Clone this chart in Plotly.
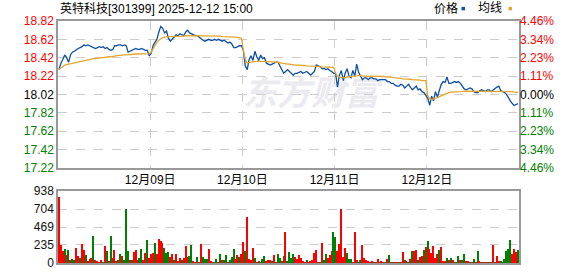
import plotly.graph_objects as go

# ---------------- data ----------------
title_text = "英特科技[301399] 2025-12-12 15:00"
day_labels = ["12月09日", "12月10日", "12月11日", "12月12日"]
bars_per_day = 48

price_d1 = [18.29, 18.36, 18.40, 18.45, 18.42, 18.37, 18.45, 18.48, 18.49, 18.51, 18.52, 18.53,
            18.54, 18.56, 18.55, 18.56, 18.55, 18.54, 18.53, 18.52, 18.53, 18.54, 18.53, 18.54,
            18.52, 18.53, 18.51, 18.50, 18.51, 18.55, 18.55, 18.56, 18.56, 18.55, 18.56, 18.55,
            18.48, 18.49, 18.50, 18.51, 18.52, 18.51, 18.51, 18.52, 18.51, 18.50, 18.50, 18.44]
price_d2 = [18.47, 18.55, 18.59, 18.62, 18.70, 18.76, 18.74, 18.69, 18.71, 18.63, 18.60, 18.62,
            18.65, 18.67, 18.66, 18.68, 18.67, 18.66, 18.70, 18.72, 18.69, 18.68, 18.67, 18.66,
            18.66, 18.64, 18.62, 18.61, 18.60, 18.61, 18.62, 18.61, 18.61, 18.62, 18.61, 18.62,
            18.61, 18.60, 18.61, 18.59, 18.58, 18.59, 18.57, 18.53, 18.53, 18.54, 18.55, 18.55]
price_d3 = [18.50, 18.33, 18.29, 18.40, 18.44, 18.39, 18.49, 18.43, 18.39, 18.45, 18.41, 18.42,
            18.36, 18.35, 18.34, 18.35, 18.36, 18.37, 18.37, 18.33, 18.29, 18.25, 18.27, 18.29,
            18.27, 18.25, 18.23, 18.25, 18.25, 18.26, 18.27, 18.25, 18.26, 18.27, 18.25, 18.23,
            18.25, 18.27, 18.34, 18.33, 18.32, 18.30, 18.30, 18.29, 18.30, 18.28, 18.27, 18.25]
price_d4 = [18.25, 18.10, 18.23, 18.28, 18.17, 18.25, 18.30, 18.22, 18.20, 18.28, 18.22, 18.35,
            18.26, 18.22, 18.18, 18.20, 18.20, 18.18, 18.20, 18.20, 18.19, 18.19, 18.17, 18.18,
            18.18, 18.18, 18.18, 18.16, 18.16, 18.14, 18.14, 18.12, 18.11, 18.11, 18.13, 18.12,
            18.09, 18.11, 18.13, 18.10, 18.07, 18.09, 18.11, 18.07, 18.08, 18.05, 18.04, 18.01]
price_d5 = [17.98, 17.90, 18.00, 17.95, 18.05, 17.99, 18.06, 18.13, 18.16, 18.15, 18.21, 18.14,
            18.14, 18.15, 18.16, 18.15, 18.16, 18.14, 18.11, 18.08, 18.07, 18.08, 18.09, 18.08,
            18.05, 18.04, 18.04, 18.06, 18.07, 18.06, 18.05, 18.07, 18.07, 18.05, 18.07, 18.09,
            18.10, 18.11, 18.06, 18.05, 18.04, 18.02, 17.98, 17.95, 17.92, 17.90, 17.91, 17.92]

avg_d1 = [18.29, 18.31, 18.33, 18.34, 18.345, 18.35, 18.355, 18.36, 18.365, 18.37, 18.375, 18.38,
          18.385, 18.39, 18.395, 18.40, 18.40, 18.405, 18.41, 18.41, 18.415, 18.42, 18.42, 18.42,
          18.425, 18.43, 18.43, 18.43, 18.435, 18.44, 18.44, 18.445, 18.445, 18.45, 18.45, 18.45,
          18.455, 18.455, 18.455, 18.46, 18.46, 18.46, 18.46, 18.46, 18.465, 18.465, 18.465, 18.465]
avg_d2 = [18.48, 18.52, 18.56, 18.59, 18.61, 18.63, 18.64, 18.645, 18.65, 18.65, 18.65, 18.65,
          18.65, 18.65, 18.655, 18.655, 18.655, 18.655, 18.66, 18.66, 18.66, 18.66, 18.66, 18.66,
          18.66, 18.66, 18.66, 18.66, 18.655, 18.655, 18.655, 18.655, 18.655, 18.655, 18.655, 18.655,
          18.655, 18.65, 18.65, 18.65, 18.65, 18.65, 18.65, 18.645, 18.645, 18.64, 18.64, 18.635]
avg_d3 = [18.50, 18.40, 18.36, 18.37, 18.375, 18.375, 18.38, 18.38, 18.38, 18.38, 18.38, 18.38,
          18.38, 18.375, 18.375, 18.375, 18.375, 18.37, 18.37, 18.365, 18.36, 18.355, 18.355, 18.35,
          18.35, 18.345, 18.345, 18.34, 18.34, 18.34, 18.34, 18.335, 18.335, 18.33, 18.33, 18.33,
          18.325, 18.325, 18.325, 18.325, 18.32, 18.32, 18.32, 18.32, 18.315, 18.315, 18.315, 18.315]
avg_d4 = [18.25, 18.22, 18.21, 18.20, 18.20, 18.205, 18.21, 18.215, 18.22, 18.22, 18.22, 18.225,
          18.225, 18.225, 18.22, 18.22, 18.22, 18.22, 18.22, 18.22, 18.22, 18.22, 18.215, 18.215,
          18.215, 18.215, 18.21, 18.21, 18.21, 18.205, 18.205, 18.20, 18.20, 18.195, 18.195, 18.19,
          18.19, 18.19, 18.185, 18.185, 18.18, 18.18, 18.18, 18.175, 18.175, 18.17, 18.17, 18.17]
avg_d5 = [18.00, 17.97, 17.965, 17.97, 17.975, 17.985, 17.995, 18.005, 18.015, 18.025, 18.035, 18.04,
          18.045, 18.045, 18.05, 18.05, 18.05, 18.05, 18.05, 18.055, 18.055, 18.055, 18.055, 18.055,
          18.055, 18.055, 18.055, 18.055, 18.055, 18.055, 18.055, 18.055, 18.055, 18.055, 18.055, 18.055,
          18.055, 18.055, 18.055, 18.055, 18.055, 18.05, 18.05, 18.05, 18.05, 18.045, 18.045, 18.04]

volume = [
    862, 228, 156, 177, 101, 165, 42, 51, 42, 190, 93, 63, 241, 165, 101, 30, 51, 59, 355, 42,
    17, 8, 42, 10, 220, 156, 30, 346, 63, 165, 21, 42, 114, 85, 42, 697, 156, 34, 42, 139,
    165, 34, 63, 177, 42, 127, 304, 63,
    114, 135, 254, 114, 317, 283, 262, 199, 135, 144, 72, 114, 42, 114, 17, 59, 42, 59, 220, 72,
    93, 228, 21, 12, 72, 10, 241, 72, 51, 51, 186, 30, 8, 8, 51, 8, 114, 42, 42, 101,
    12, 42, 72, 177, 51, 101, 72, 114,
    270, 156, 600, 51, 42, 190, 59, 12, 30, 8, 51, 93, 30, 42, 34, 30, 101, 10, 114, 59,
    30, 93, 397, 21, 144, 63, 114, 76, 51, 101, 63, 30, 8, 42, 10, 30, 42, 127, 165, 10,
    8, 254, 34, 114, 63, 101, 156, 397,
    334, 156, 249, 697, 76, 199, 127, 51, 51, 10, 397, 38, 10, 42, 228, 63, 42, 30, 8, 30,
    8, 8, 51, 8, 30, 8, 8, 51, 101, 8, 8, 8, 8, 8, 8, 139, 42, 30, 8, 51,
    152, 156, 165, 42, 72, 85, 165, 207,
    292, 186, 135, 220, 59, 114, 165, 207, 30, 30, 63, 34, 63, 42, 8, 8, 85, 34, 42, 114,
    30, 30, 8, 8, 51, 8, 156, 30, 8, 8, 8, 8, 8, 8, 232, 8, 93, 30, 30, 8,
    51, 152, 177, 304, 114, 177, 144, 165,
]
vol_dir = (
    "rrrgrgrggr" "rgrrgrrrgr" "rrrgrgrgrr" "grgrgggrgr" "rrggrrgr"
    "rrgrrrrggg" "rrgrrrgrrr" "ggrrgrrggg" "rrrggrgrgg" "rggg" "rrgr"
    "rgrrrrgrrg" "ggrrrgrrgg" "rgrggggrrr" "rrrgrrrrrr" "grggrrrg"
    "grrrrrgggr" "rrggrrrrrr" "grrgrrgrgr" "grrgrrgrgr" "grrgrrgr"
    "grrrrrgrrr" "grgrrggrgg" "rrgrgrgrrg" "rrgrrgrrgg" "ggggrrrg"
)

price_ticks = [17.22, 17.42, 17.62, 17.82, 18.02, 18.22, 18.42, 18.62, 18.82]
pct_labels = ["4.46%", "3.34%", "2.23%", "1.11%", "0.00%", "1.11%", "2.23%", "3.34%", "4.46%"]
vol_ticks = [0, 235, 469, 704, 938]

# ---------------- build ----------------
RED, GREEN, BLACK = "#ff0000", "#008000", "#000000"
price = price_d1 + price_d2 + price_d3 + price_d4 + price_d5
avg = avg_d1 + avg_d2 + avg_d3 + avg_d4 + avg_d5
n = len(price)
xs = [i + 0.5 for i in range(n)]
prev_close = price_ticks[4]


def tick_color(v):
    if abs(v - prev_close) < 1e-9:
        return BLACK
    return RED if v > prev_close else GREEN


left_text = ['<span style="color:%s">%.2f</span>' % (tick_color(v), v) for v in price_ticks]
right_text = ['<span style="color:%s">%s</span>' % (tick_color(v), t)
              for v, t in zip(price_ticks, pct_labels)]
day_ticks = [bars_per_day * (i + 1) for i in range(len(day_labels))]
bar_colors = [RED if c == "r" else GREEN for c in vol_dir]

FONT = "Liberation Sans, Arial, Noto Sans CJK SC, sans-serif"
BORDER = "#999999"
GRID = "#cccccc"

fig = go.Figure()
fig.add_trace(go.Scatter(x=xs, y=price, mode="lines", line=dict(color="#0d4fa6", width=1.3),
                         xaxis="x", yaxis="y", hoverinfo="skip"))
fig.add_trace(go.Scatter(x=xs, y=avg, mode="lines", line=dict(color="#e3a62a", width=1.3),
                         xaxis="x", yaxis="y", hoverinfo="skip"))
fig.add_trace(go.Bar(x=xs, y=volume, marker=dict(color=bar_colors, line=dict(width=0)),
                     width=0.72, xaxis="x2", yaxis="y2", hoverinfo="skip"))

H_TOP, H_PBOT, H_VTOP, H_BOT = 21, 172, 196, 270
span = H_BOT - H_TOP


def py(pix):
    return (H_BOT - pix) / span


def px(pix):
    return (pix - 58) / 461.0


fig.update_layout(
    width=578, height=276,
    margin=dict(l=58, r=59, t=H_TOP, b=276 - H_BOT, pad=0),
    paper_bgcolor="white", plot_bgcolor="white",
    showlegend=False,
    font=dict(family=FONT, size=12, color="#000"),
    bargap=0,
    xaxis=dict(domain=[0, 1], anchor="y", range=[0, n], tickvals=day_ticks, ticktext=day_labels,
               showgrid=True, gridcolor=GRID, griddash="dash", gridwidth=1,
               showline=True, mirror=True, linecolor=BORDER, linewidth=1.5,
               ticks="", zeroline=False, tickfont=dict(size=12, color="#000")),
    yaxis=dict(domain=[py(H_PBOT), 1], anchor="x", range=[price_ticks[0], price_ticks[-1]],
               tickvals=price_ticks, ticktext=left_text,
               showgrid=True, gridcolor=GRID, griddash="dash", gridwidth=1,
               showline=True, mirror=True, linecolor=BORDER, linewidth=1.5,
               ticks="", zeroline=False, tickfont=dict(size=12)),
    yaxis3=dict(overlaying="y", side="right", anchor="x", range=[price_ticks[0], price_ticks[-1]],
                tickvals=price_ticks, ticktext=right_text, showgrid=False, zeroline=False,
                ticks="", showline=False, tickfont=dict(size=12)),
    xaxis2=dict(domain=[0, 1], anchor="y2", range=[0, n], showticklabels=False, showgrid=False,
                showline=True, mirror=True, linecolor=BORDER, linewidth=1.5, ticks="", zeroline=False),
    yaxis2=dict(domain=[0, py(H_VTOP)], anchor="x2", range=[0, vol_ticks[-1]],
                tickvals=vol_ticks, ticktext=[str(v) for v in vol_ticks],
                showgrid=True, gridcolor=GRID, griddash="dash", gridwidth=1,
                showline=True, mirror=True, linecolor=BORDER, linewidth=1.5,
                ticks="", zeroline=False, tickfont=dict(size=12, color="#111")),
)

# dummy trace to activate the right-hand percent axis
fig.add_trace(go.Scatter(x=[xs[0]], y=[price[0]], mode="markers", marker=dict(opacity=0),
                         xaxis="x", yaxis="y3", hoverinfo="skip"))

# watermark (behind data)
fig.add_shape(type="rect", xref="paper", yref="paper",
              x0=px(240), x1=px(382), y0=py(118), y1=py(78), layer="below",
              line=dict(width=0), fillcolor="rgba(0,0,0,0)",
              label=dict(text="东方财富", font=dict(size=34, color="#ebebef",
                                                family="Noto Sans CJK SC", weight="bold", style="italic")))

# title and legend
fig.add_annotation(text=title_text, xref="paper", yref="paper", x=px(58), y=py(8),
                   xanchor="left", yanchor="middle", showarrow=False,
                   font=dict(size=12, color="#000", family=FONT))
fig.add_annotation(text="价格", xref="paper", yref="paper", x=px(432), y=py(8),
                   xanchor="left", yanchor="middle", showarrow=False, font=dict(size=12, color="#000"))
fig.add_annotation(text="均线", xref="paper", yref="paper", x=px(476), y=py(8),
                   xanchor="left", yanchor="middle", showarrow=False, font=dict(size=12, color="#000"))
fig.add_shape(type="rect", xref="paper", yref="paper", x0=px(461.5), x1=px(465), y0=py(10),
              y1=py(6.5), fillcolor="#0d4fa6", line=dict(width=0))
fig.add_shape(type="rect", xref="paper", yref="paper", x0=px(508.5), x1=px(512), y0=py(10),
              y1=py(6.5), fillcolor="#e3a62a", line=dict(width=0))

fig.write_html("out.html")
